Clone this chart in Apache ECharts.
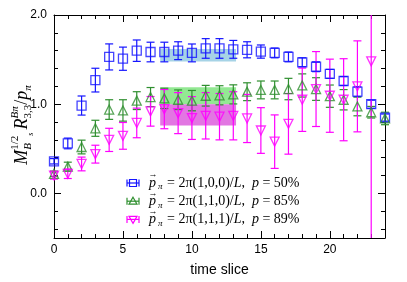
<!DOCTYPE html>
<html><head><meta charset="utf-8">
<script src="https://cdn.jsdelivr.net/npm/echarts@6/dist/echarts.min.js"></script>
<style>html,body{margin:0;padding:0;background:#fff}#c{width:407px;height:282px}</style>
</head><body><div id="c"></div>
<script>
// ---- data ----
const timeSlices = [0,1,2,3,4,5,6,7,8,9,10,11,12,13,14,15,16,17,18,19,20,21,22,23,24];
const blueVal = [0.36,0.56,0.985,1.27,1.53,1.51,1.60,1.585,1.585,1.60,1.575,1.625,1.625,1.615,1.61,1.59,1.575,1.53,1.47,1.42,1.34,1.26,1.14,1.00,0.85];
const blueErr = [0.03,0.06,0.107,0.133,0.146,0.13,0.12,0.11,0.11,0.10,0.10,0.11,0.11,0.10,0.09,0.074,0.055,0.055,0.05,0.055,0.05,0.05,0.055,0.045,0.04];
const greenVal = [0.22,0.30,0.52,0.73,0.94,0.93,1.04,1.08,1.065,1.05,1.04,1.095,1.10,1.11,1.14,1.16,1.16,1.17,1.21,1.17,1.09,1.05,0.975,0.91,0.84];
const greenErr = [0.03,0.05,0.077,0.09,0.11,0.12,0.10,0.107,0.114,0.11,0.114,0.116,0.107,0.107,0.10,0.10,0.10,0.12,0.13,0.127,0.125,0.114,0.105,0.065,0.07];
const magentaVal = [0.20,0.22,0.33,0.44,0.60,0.645,0.79,0.92,0.945,0.90,0.845,0.87,0.86,0.87,0.84,0.705,0.58,0.78,1.05,1.17,1.095,1.05,1.20,1.48];
const magentaErr = [0.04,0.053,0.077,0.10,0.13,0.15,0.166,0.166,0.22,0.23,0.24,0.26,0.26,0.27,0.27,0.256,0.30,0.34,0.355,0.42,0.41,0.46,0.51,3.0];
const bandRange = [7.7, 13.2];
const blueBand = [1.48, 1.62];
const greenBand = [1.00, 1.19];
const magentaBand = [0.76, 1.00];
const xLabels = [0,5,10,15,20];
const xMinor = [1,2,3,4,6,7,8,9,11,12,13,14,16,17,18,19,21,22,23];
const xMajor = [5,10,15,20];
const yLabels = [0,1,2];
const yMinor = [-0.4,-0.2,0.2,0.4,0.6,0.8,1.2,1.4,1.6,1.8];
const yMajor = [0,1];
const legendRows = [
  {nums:'(1,0,0)', pct:'50%'},
  {nums:'(1,1,0)', pct:'85%'},
  {nums:'(1,1,1)', pct:'89%'}
];

const BLUE = '#1515ff', GREEN = '#2f8f2f', MAG = '#ff00ff';
const Y_MIN = -0.5, Y_MAX = 2.0;

const chart = echarts.init(document.getElementById('c'), null, {renderer:'canvas'});

function errSeries(name, vals, errs, color) {
  return {
    type:'custom', name, xAxisIndex:0, yAxisIndex:0, z:3,
    data: vals.map((v,i)=>[timeSlices[i], v, errs[i]]),
    renderItem(params, api){
      const x=api.value(0), y=api.value(1), e=api.value(2);
      const hi = Math.min(y+e, Y_MAX), lo = Math.max(y-e, Y_MIN);
      const top=api.coord([x,hi]), bot=api.coord([x,lo]);
      const w=4;
      const style={stroke:color, lineWidth:1.2, fill:null};
      const ch=[{type:'line', shape:{x1:top[0],y1:top[1],x2:bot[0],y2:bot[1]}, style}];
      if (y+e <= Y_MAX) ch.push({type:'line', shape:{x1:top[0]-w,y1:top[1],x2:top[0]+w,y2:top[1]}, style});
      if (y-e >= Y_MIN) ch.push({type:'line', shape:{x1:bot[0]-w,y1:bot[1],x2:bot[0]+w,y2:bot[1]}, style});
      return {type:'group', children:ch};
    }
  };
}
function markSeries(name, vals, color, symbol, size, rot) {
  return {
    type:'scatter', name, xAxisIndex:0, yAxisIndex:0, z:4,
    data: vals.map((v,i)=>[timeSlices[i], v]),
    symbol, symbolSize:size, symbolRotate:rot||0,
    itemStyle:{color:'rgba(0,0,0,0)', borderColor:color, borderWidth:1.3},
    emphasis:{disabled:true}, silent:true
  };
}
function bandSeries(range, color) {
  return {
    type:'custom', xAxisIndex:0, yAxisIndex:0, z:1, silent:true,
    data:[[bandRange[0], range[0], bandRange[1], range[1]]],
    renderItem(params, api){
      const p1=api.coord([api.value(0), api.value(3)]);
      const p2=api.coord([api.value(2), api.value(1)]);
      return {type:'rect', shape:{x:p1[0], y:p1[1], width:p2[0]-p1[0], height:p2[1]-p1[1]}, style:{fill:color}};
    }
  };
}

// text layout helper
const mctx = document.createElement('canvas').getContext('2d');
function fontOf(p){ return (p.it?'italic ':'') + p.size + 'px "Liberation Serif"'; }
function layout(pieces) {
  let x=0, stackW=0; const out=[];
  for (const p of pieces) {
    const font=fontOf(p); mctx.font=font;
    const w=mctx.measureText(p.t).width;
    out.push({type:'text', x:x+(p.dx||0), y:p.dy||0, silent:true,
      style:{text:p.t, font, fill:'#000', align:'left', verticalAlign:'middle'}});
    if (p.stack) { stackW=Math.max(stackW,w); }
    else { x += Math.max(w, stackW) + (p.gap||0); stackW=0; }
  }
  return {children:out, width:x};
}

// y axis title
const yl = layout([
  {t:'M', it:true, size:18},
  {t:'1/2', size:11, dy:-7, stack:true},
  {t:'B', it:true, size:11, dy:6},
  {t:'s', it:true, size:8, dy:9, gap:3},
  {t:'R', it:true, size:18},
  {t:'Bπ', it:true, size:11, dy:-7, stack:true},
  {t:'3,3', size:11, dy:6},
  {t:'/', size:18},
  {t:'p', it:true, size:18},
  {t:'π', it:true, size:11, dy:6}
]);
const yTitleCenter = 125;

const graphics = [{
  type:'group', x:22, y:yTitleCenter + yl.width/2, rotation:Math.PI/2, children:yl.children
}];

// legend
const legendX = 133, legendTextX = 149, legendY0 = 183, legendDy = 18.2;
const legColors=[BLUE,GREEN,MAG];
legendRows.forEach((r,i)=>{
  const cy = legendY0 + i*legendDy;
  const c = legColors[i];
  const st = {stroke:c, lineWidth:1.2, fill:null};
  const sym = [
    {type:'line', shape:{x1:legendX-6,y1:cy,x2:legendX+6,y2:cy}, style:st},
    {type:'line', shape:{x1:legendX-6,y1:cy-3.5,x2:legendX-6,y2:cy+3.5}, style:st},
    {type:'line', shape:{x1:legendX+6,y1:cy-3.5,x2:legendX+6,y2:cy+3.5}, style:st}
  ];
  if (i===0) sym.push({type:'rect', shape:{x:legendX-3.5,y:cy-3.5,width:7,height:7}, style:st});
  if (i===1) sym.push({type:'polygon', shape:{points:[[legendX,cy-4],[legendX+4,cy+3],[legendX-4,cy+3]]}, style:st});
  if (i===2) sym.push({type:'polygon', shape:{points:[[legendX,cy+4],[legendX+4,cy-3],[legendX-4,cy-3]]}, style:st});
  graphics.push({type:'group', silent:true, children:sym});
  const lt = layout([
    {t:'→', size:9, dy:-8, dx:-0.5, stack:true},
    {t:'p', it:true, size:14},
    {t:'π', it:true, size:9, dy:4, gap:1},
    {t:' = 2π'+r.nums+'/', size:14},
    {t:'L', it:true, size:14},
    {t:',  ', size:14},
    {t:'p', it:true, size:14},
    {t:' = '+r.pct, size:14}
  ]);
  graphics.push({type:'group', x:legendTextX, y:cy, children:lt.children});
});

const axisFont = {fontFamily:'Liberation Sans', fontSize:12, color:'#000'};
function xAx(pos, ticks, len, withLine, extra) {
  return Object.assign({type:'value', min:0, max:24, position:pos,
    axisLine:{show:withLine, onZero:false, lineStyle:{color:'#000', width:1}},
    axisTick:{show:true, inside:true, length:len, customValues:ticks, lineStyle:{color:'#000', width:1}},
    axisLabel:{show:false}, splitLine:{show:false}}, extra||{});
}
function yAx(pos, ticks, len, withLine, extra) {
  return Object.assign({type:'value', min:Y_MIN, max:Y_MAX, position:pos,
    axisLine:{show:withLine, onZero:false, lineStyle:{color:'#000', width:1}},
    axisTick:{show:true, inside:true, length:len, customValues:ticks, lineStyle:{color:'#000', width:1}},
    axisLabel:{show:false}, splitLine:{show:false}}, extra||{});
}

chart.setOption({
  animation:false,
  backgroundColor:'#fff',
  grid:{left:54, right:22, top:15, bottom:42, containLabel:false},
  xAxis:[
    xAx('bottom', xMinor, 4, true, {
      axisLabel:Object.assign({show:true, customValues:xLabels, margin:6}, axisFont),
      name:'time slice', nameLocation:'middle', nameGap:25, nameMoveOverlap:false,
      nameTextStyle:{fontFamily:'Liberation Sans', fontSize:14, color:'#000'}
    }),
    xAx('bottom', xMajor, 7, false),
    xAx('top', xMinor, 4, true),
    xAx('top', xMajor, 7, false)
  ],
  yAxis:[
    yAx('left', yMinor, 4, true, {
      axisLabel:Object.assign({show:true, customValues:yLabels, margin:7, formatter:v=>Number(v).toFixed(1)}, axisFont)
    }),
    yAx('left', yMajor, 7, false),
    yAx('right', yMinor, 4, true),
    yAx('right', yMajor, 7, false)
  ],
  series:[
    bandSeries(blueBand, '#a6d3e6'),
    bandSeries(greenBand, '#93e893'),
    bandSeries(magentaBand, '#e276e2'),
    errSeries('b', blueVal, blueErr, BLUE),
    markSeries('b', blueVal, BLUE, 'rect', 9),
    errSeries('g', greenVal, greenErr, GREEN),
    markSeries('g', greenVal, GREEN, 'triangle', 9),
    errSeries('m', magentaVal, magentaErr, MAG),
    markSeries('m', magentaVal, MAG, 'triangle', 9, 180)
  ],
  graphic: graphics
});
</script></body></html>
